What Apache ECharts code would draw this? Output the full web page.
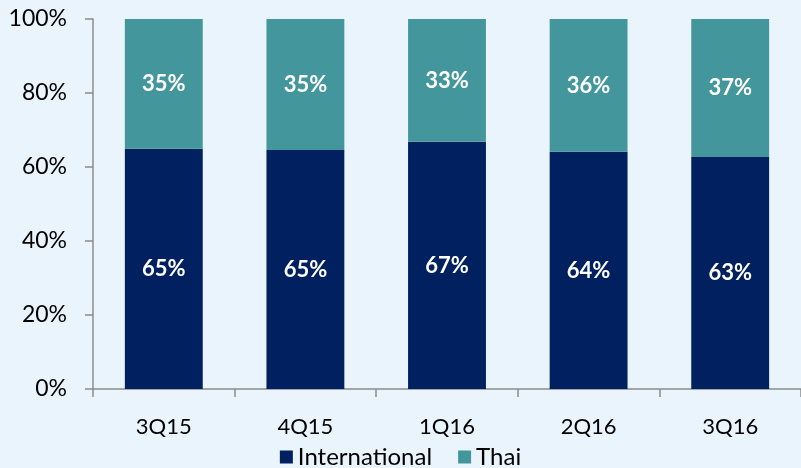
<!DOCTYPE html>
<html>
<head>
    <meta charset="utf-8">
    <title>International vs Thai</title>
    <script src="https://cdn.jsdelivr.net/npm/echarts@6/dist/echarts.min.js"></script>
    <style>
        html, body { margin: 0; padding: 0; background: #eaf4fd; }
    </style>
</head>
<body>
    <div id="main" style="width: 801px;height:468px;"></div>
    <script type="text/javascript">
        // data (share in %)
        var quarters = ['3Q15', '4Q15', '1Q16', '2Q16', '3Q16'];
        var international = [64.9, 64.6, 66.8, 64.1, 62.7];
        var thai = [35.1, 35.4, 33.2, 35.9, 37.3];
        var yTicks = [0, 20, 40, 60, 80, 100];

        var myChart = echarts.init(document.getElementById('main'));

        var font = 'Lato';
        var barLabel = {
            show: true,
            position: 'inside',
            color: '#ffffff',
            fontFamily: font,
            fontWeight: 'bold',
            fontSize: 22,
            formatter: function (p) { return Math.round(p.value) + '%'; }
        };

        var option = {
            backgroundColor: '#eaf4fd',
            animation: false,
            grid: { left: 93, right: 0, top: 19, bottom: 79 },
            legend: {
                bottom: -6,
                left: 'center',
                itemWidth: 13,
                itemHeight: 13,
                itemGap: 26,
                icon: 'rect',
                textStyle: { fontFamily: font, fontSize: 24, color: '#000' },
                data: ['International', 'Thai']
            },
            xAxis: {
                type: 'category',
                data: quarters,
                axisLine: { lineStyle: { color: '#8c8c8c', width: 1.5 } },
                axisTick: { show: true, length: 8, lineStyle: { color: '#8c8c8c', width: 1.5 } },
                axisLabel: { color: '#000', fontFamily: font, fontSize: 22, margin: 27 }
            },
            yAxis: {
                type: 'value',
                min: yTicks[0],
                max: yTicks[yTicks.length - 1],
                interval: 20,
                splitLine: { show: false },
                axisLine: { show: true, lineStyle: { color: '#8c8c8c', width: 1.5 } },
                axisTick: { show: true, length: 8, lineStyle: { color: '#8c8c8c', width: 1.5 } },
                axisLabel: { color: '#000', fontFamily: font, fontSize: 23, margin: 26, formatter: '{value}%' }
            },
            series: [
                {
                    name: 'International',
                    type: 'bar',
                    stack: 'share',
                    barWidth: '55%',
                    itemStyle: { color: '#00205f' },
                    label: barLabel,
                    data: international
                },
                {
                    name: 'Thai',
                    type: 'bar',
                    stack: 'share',
                    itemStyle: { color: '#43979c' },
                    label: barLabel,
                    data: thai
                }
            ]
        };

        myChart.setOption(option);
    </script>
</body>
</html>
